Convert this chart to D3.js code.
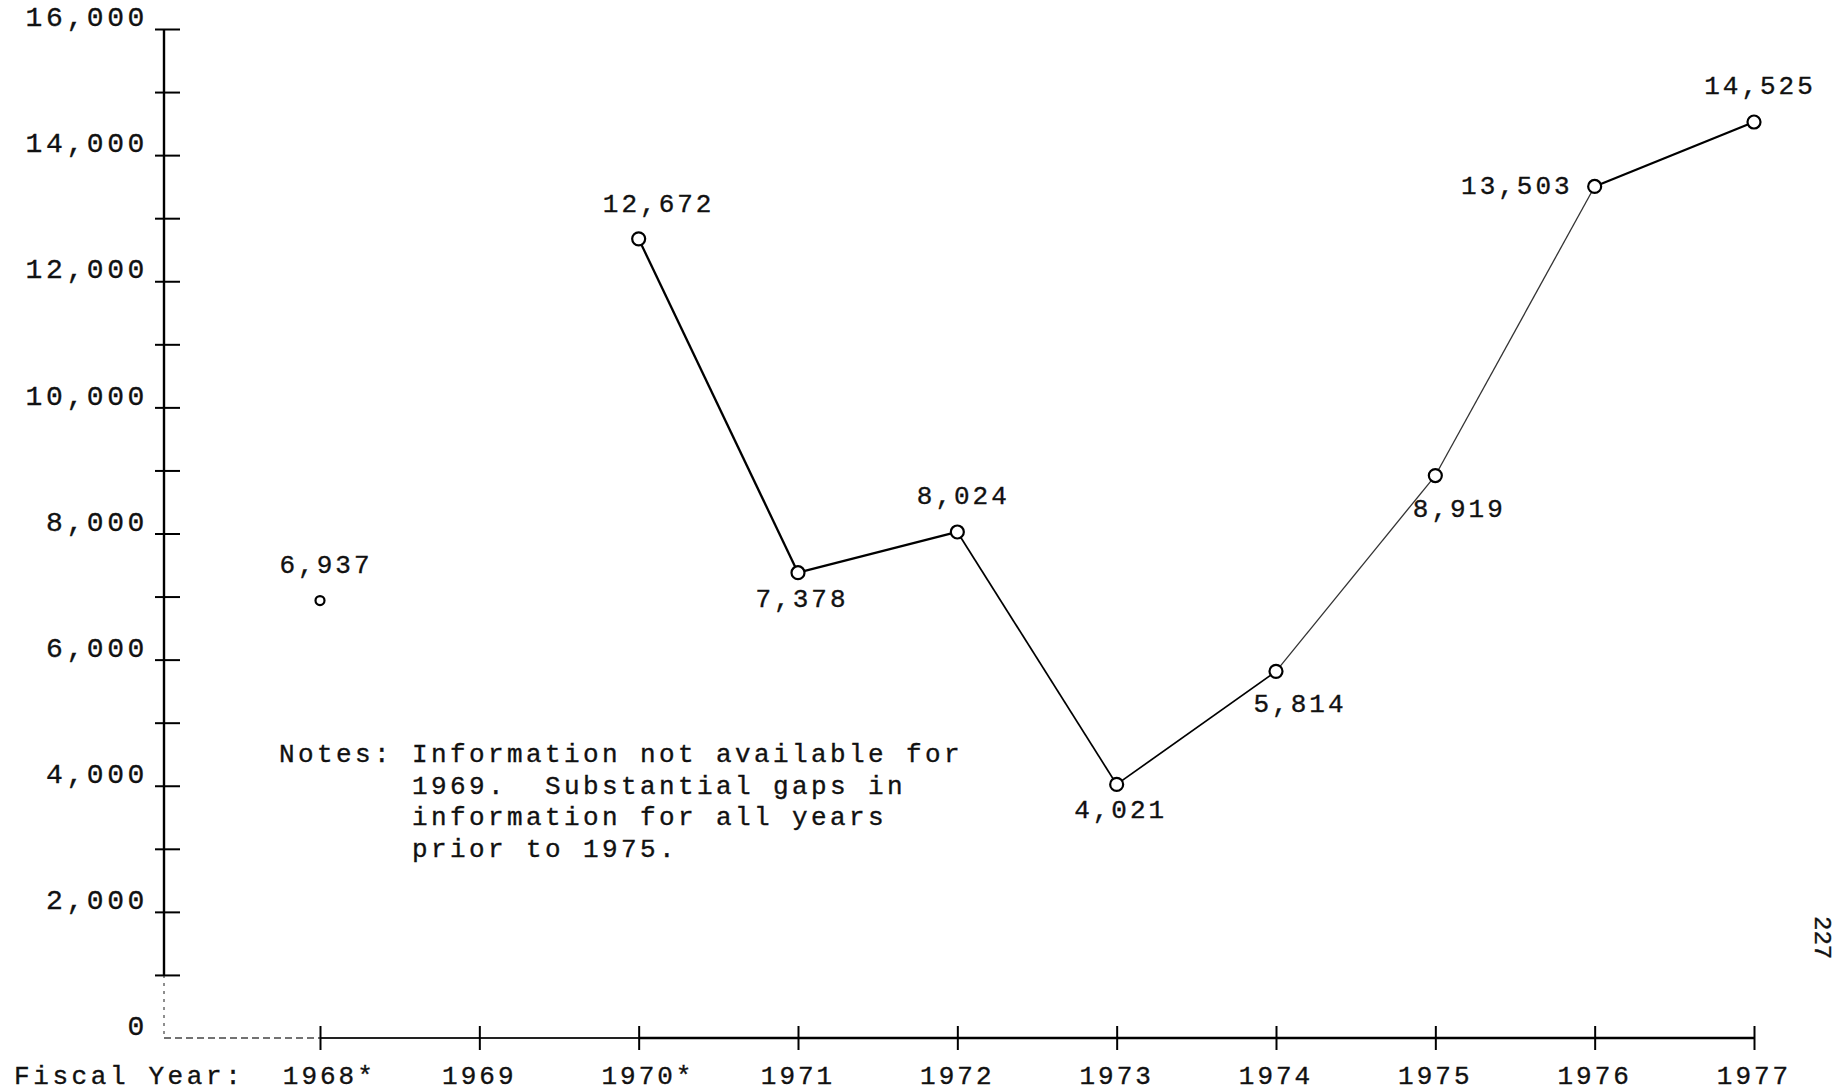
<!DOCTYPE html>
<html><head><meta charset="utf-8">
<script src="https://cdn.jsdelivr.net/npm/d3@7"></script>
<style>
html,body{margin:0;padding:0;background:#fff;}
svg{display:block;}
text{font-family:"Liberation Mono","DejaVu Sans Mono",monospace;fill:#111;stroke:#111;stroke-width:0.35px;}
</style></head>
<body>
<svg id="chart" width="1837" height="1092"></svg>
<script>
// ---- data ----
const years = [1968, 1969, 1970, 1971, 1972, 1973, 1974, 1975, 1976, 1977];
const yearLabels = ["1968*", "1969", "1970*", "1971", "1972", "1973", "1974", "1975", "1976", "1977"];
const values = [6937, null, 12672, 7378, 8024, 4021, 5814, 8919, 13503, 14525];
const labelPlacement = ["above", null, "aboveRight", "below", "above", "below", "belowRight", "belowRight", "left", "above"];
const yMajorTicks = [0, 2000, 4000, 6000, 8000, 10000, 12000, 14000, 16000];
const yMinorTicks = [1000, 3000, 5000, 7000, 9000, 11000, 13000, 15000];
const xAxisTitle = "Fiscal Year:";
const notesLines = ["Notes: Information not available for",
                    "       1969.  Substantial gaps in",
                    "       information for all years",
                    "       prior to 1975."];
const pageNumber = "227";

// ---- layout ----
const svg = d3.select("#chart");
const axisX = 164, y0px = 1038, yTop = 29;
const x = d3.scaleLinear().domain([1968, 1977]).range([320, 1754]);
const y = d3.scaleLinear().domain([0, 16000]).range([y0px, yTop]);
const fontSize = 26, ls = 3;
const fmt = d3.format(",");

// y axis line (solid upper, faint dotted lower part)
svg.append("line").attr("x1", axisX).attr("x2", axisX)
  .attr("y1", y(16000)).attr("y2", y(1000))
  .attr("stroke", "#000").attr("stroke-width", 2.4);
svg.append("line").attr("x1", axisX).attr("x2", axisX)
  .attr("y1", y(1000)).attr("y2", y(0))
  .attr("stroke", "#444").attr("stroke-width", 1.2).attr("stroke-dasharray", "3,5");

// y tick marks via axis
const yTicksG = svg.append("g").attr("transform", `translate(${axisX - 9},0)`)
  .call(d3.axisRight(y).tickValues(yMajorTicks.filter(d => d > 0).concat(yMinorTicks))
    .tickSize(25).tickFormat(""));
yTicksG.select(".domain").remove();
yTicksG.selectAll(".tick line").attr("stroke", "#000").attr("stroke-width", 2);

// y labels via axis
const yLabG = svg.append("g").attr("transform", `translate(${axisX - 16},0)`)
  .call(d3.axisLeft(y).tickValues(yMajorTicks).tickSize(0).tickPadding(0).tickFormat(fmt));
yLabG.select(".domain").remove();
yLabG.selectAll(".tick text")
  .attr("font-family", '"Liberation Mono", monospace')
  .attr("font-size", 28).attr("letter-spacing", 3.6)
  .attr("dy", "-0.12em").attr("fill", "#111");

// x axis line
svg.append("line").attr("x1", axisX).attr("x2", x(1968))
  .attr("y1", y0px).attr("y2", y0px)
  .attr("stroke", "#444").attr("stroke-width", 1.4).attr("stroke-dasharray", "7,4");
svg.append("line").attr("x1", x(1968)).attr("x2", x(1970))
  .attr("y1", y0px).attr("y2", y0px)
  .attr("stroke", "#222").attr("stroke-width", 1.8);
svg.append("line").attr("x1", x(1970)).attr("x2", x(1977))
  .attr("y1", y0px).attr("y2", y0px)
  .attr("stroke", "#000").attr("stroke-width", 2.4);

// x ticks via axis
const xTicksG = svg.append("g").attr("transform", `translate(0,${y0px - 12})`)
  .call(d3.axisBottom(x).tickValues(years).tickSize(24).tickFormat(""));
xTicksG.select(".domain").remove();
xTicksG.selectAll(".tick line").attr("stroke", "#000").attr("stroke-width", 2);

// x labels
const charW = fontSize * 0.6 + ls;
svg.append("g").selectAll("text").data(years).join("text")
  .attr("x", (d, i) => x(d) + (yearLabels[i].endsWith("*") ? charW / 2 : 0))
  .attr("y", 1084)
  .attr("text-anchor", "middle")
  .attr("font-size", fontSize).attr("letter-spacing", ls)
  .text((d, i) => yearLabels[i]);
svg.append("text").attr("x", 14).attr("y", 1084)
  .attr("font-size", fontSize).attr("letter-spacing", ls + 0.6)
  .text(xAxisTitle);

// data line
const pts = years.map((yr, i) => ({yr, v: values[i], place: labelPlacement[i]})).filter(d => d.v != null);
const seg = pts.filter(d => d.yr >= 1970);
const lineGen = d3.line().x(d => x(d.yr)).y(d => y(d.v));
for (let i = 0; i < seg.length - 1; i++) {
  const a = seg[i], b = seg[i + 1];
  const faint = a.yr >= 1974 && a.yr <= 1975;
  svg.append("path").attr("d", lineGen([a, b]))
    .attr("fill", "none")
    .attr("stroke", faint ? "#333" : "#000")
    .attr("stroke-width", faint ? 1.3 : (a.yr >= 1972 && a.yr <= 1973 ? 1.7 : 2.3));
}

// markers
svg.append("g").selectAll("circle").data(pts).join("circle")
  .attr("cx", d => x(d.yr)).attr("cy", d => y(d.v))
  .attr("r", d => d.yr === 1968 ? 4.5 : 6.5)
  .attr("fill", "#fff").attr("stroke", "#000").attr("stroke-width", 2.2);

// value labels
const offsets = {
  above: [6, -28, "middle"],
  aboveRight: [20, -27, "middle"],
  below: [4, 34, "middle"],
  belowRight: [24, 41, "middle"],
  left: [-22, 8, "end"]
};
svg.append("g").selectAll("text").data(pts).join("text")
  .attr("x", d => x(d.yr) + offsets[d.place][0])
  .attr("y", d => y(d.v) + offsets[d.place][1])
  .attr("text-anchor", d => offsets[d.place][2])
  .attr("font-size", fontSize).attr("letter-spacing", ls)
  .text(d => fmt(d.v));

// notes
svg.append("text").attr("font-size", fontSize).attr("letter-spacing", 3.4)
  .attr("xml:space", "preserve")
  .selectAll("tspan").data(notesLines).join("tspan")
  .attr("x", 279).attr("y", (d, i) => 762 + i * 31.6)
  .text(d => d);

// page number (rotated, near right edge)
svg.append("text").attr("font-size", 24)
  .attr("transform", "translate(1815,916) rotate(90)")
  .text(pageNumber);
</script>
</body></html>
